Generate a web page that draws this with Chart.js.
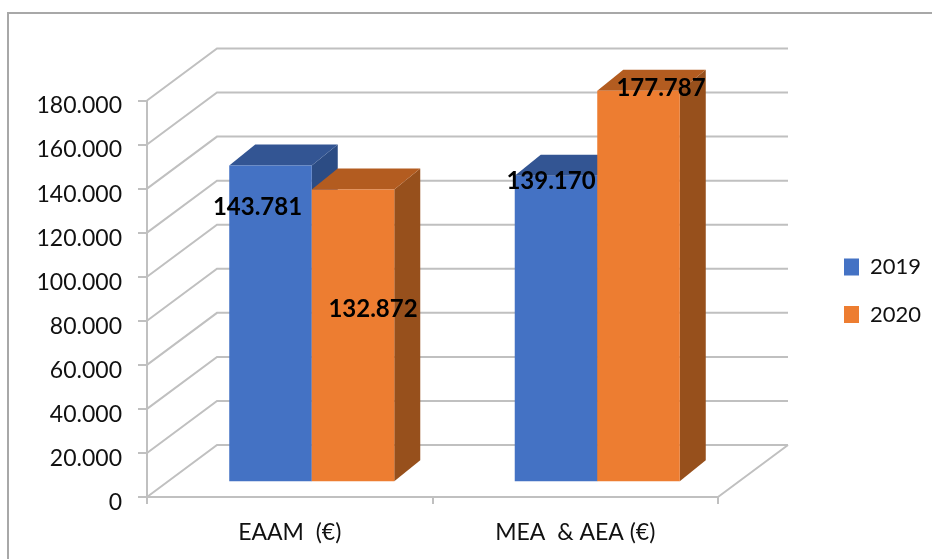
<!DOCTYPE html>
<html>
<head>
<meta charset="utf-8">
<script src="https://cdn.jsdelivr.net/npm/chart.js@4"></script>
<style>
    html, body { margin: 0; background: #fff; }
    canvas { display: block; filter: blur(0.45px); }
</style>
</head>
<body>
<canvas id="c" width="932" height="559"></canvas>
<script>
const categories = ["EAAM  (€)", "MEA  & AEA (€)"];
const seriesNames = ["2019", "2020"];
const values2019 = [143781, 139170];
const values2020 = [132872, 177787];
const yTicks = [0, 20000, 40000, 60000, 80000, 100000, 120000, 140000, 160000, 180000];

const blue = { front: '#4472c4', top: '#335593', side: '#2c4c84' };
const orange = { front: '#ed7d31', top: '#b35c20', side: '#97501c' };
const faces = [blue, orange];
const gridColor = '#c0c0c0';
const fontFamily = 'Lato, "Open Sans", sans-serif';

// depth of the back wall and of the bars, from the front plane
const wall = { dx: 70, dy: -52 };
const bar = { dx: 26, dy: -21 };
const barShift = { dx: 22, dy: -14.7 };

// hand placed value labels, relative to the front top of each bar
const labelOffsets = [
    [[-13, 42], [-5, 6]],
    [[20, 120], [22.5, -2]]
];

function fmt(v) {
    return v.toLocaleString('de-DE');
}

function poly(ctx, pts, color) {
    ctx.fillStyle = color;
    ctx.beginPath();
    pts.forEach((p, i) => i ? ctx.lineTo(p[0], p[1]) : ctx.moveTo(p[0], p[1]));
    ctx.closePath();
    ctx.fill();
}

const box3d = {
    id: 'box3d',
    beforeLayout(chart) {
        const lg = chart.legend;
        if (!lg || lg._wrapped) return;
        const fit = lg.fit;
        lg.fit = function () {
            fit.call(this);
            this.width = 214;
        };
        lg._wrapped = true;
    },
    afterLayout(chart) {
        const lg = chart.legend;
        lg.left = 844 - lg.options.labels.padding;
        lg.top -= 39;
        lg.bottom -= 39;
    },
    beforeDraw(chart) {
        const ctx = chart.ctx;
        ctx.save();
        ctx.strokeStyle = '#a8a8a8';
        ctx.lineWidth = 2;
        ctx.beginPath();
        ctx.moveTo(8, 559);
        ctx.lineTo(8, 13);
        ctx.lineTo(932, 13);
        ctx.stroke();
        ctx.restore();
    },
    beforeDatasetsDraw(chart) {
        const ctx = chart.ctx;
        const y = chart.scales.y;
        const a = chart.chartArea;
        ctx.save();
        ctx.strokeStyle = gridColor;
        ctx.lineWidth = 2;
        ctx.beginPath();
        y.ticks.forEach(t => {
            const py = y.getPixelForValue(t.value);
            ctx.moveTo(a.left, py);
            ctx.lineTo(a.left + wall.dx, py + wall.dy);
            ctx.lineTo(a.right + wall.dx, py + wall.dy);
        });
        // floor edge on the right
        ctx.moveTo(a.right + wall.dx, a.bottom + wall.dy);
        ctx.lineTo(a.right, a.bottom);
        ctx.stroke();
        ctx.restore();

        // 2020 has to sit on top of 2019, the default order is the other way round
        ctx.save();
        ctx.translate(barShift.dx, barShift.dy);
        chart.data.datasets.forEach((ds, i) => {
            const meta = chart.getDatasetMeta(i);
            const c = faces[i];
            meta.data.forEach(el => {
                const l = el.x - el.width / 2;
                const r = el.x + el.width / 2;
                poly(ctx, [[r, el.y], [r + bar.dx, el.y + bar.dy], [r + bar.dx, el.base + bar.dy], [r, el.base]], c.side);
                poly(ctx, [[l, el.y], [l + bar.dx, el.y + bar.dy], [r + bar.dx, el.y + bar.dy], [r, el.y]], c.top);
            });
            meta.controller.draw();
        });
        ctx.restore();
        return false;
    },
    afterDraw(chart) {
        const ctx = chart.ctx;
        ctx.save();
        ctx.fillStyle = '#000';
        ctx.font = 'bold 24px ' + fontFamily;
        ctx.textAlign = 'center';
        ctx.textBaseline = 'middle';
        chart.data.datasets.forEach((ds, i) => {
            chart.getDatasetMeta(i).data.forEach((el, j) => {
                const o = labelOffsets[i][j];
                ctx.fillText(fmt(ds.data[j]), el.x + barShift.dx + o[0], el.y + barShift.dy + o[1]);
            });
        });
        ctx.restore();
    }
};

new Chart(document.getElementById('c'), {
    type: 'bar',
    data: {
        labels: categories,
        datasets: [
            { label: seriesNames[0], data: values2019, backgroundColor: blue.front },
            { label: seriesNames[1], data: values2020, backgroundColor: orange.front }
        ]
    },
    plugins: [box3d],
    options: {
        responsive: false,
        animation: false,
        categoryPercentage: 0.578,
        barPercentage: 1,
        layout: { padding: { top: 100.5, left: 0, right: 0, bottom: 0 } },
        scales: {
            x: {
                afterFit: s => { s.height = 62; },
                grid: { drawOnChartArea: false, color: gridColor, tickLength: 7, lineWidth: 2 },
                border: { color: gridColor, width: 2 },
                ticks: { color: '#111', padding: 15, maxRotation: 0, font: { family: fontFamily, size: 23 } }
            },
            y: {
                min: 0,
                max: 180000,
                afterFit: s => { s.width = 147; },
                afterBuildTicks: s => { s.ticks = yTicks.map(v => ({ value: v })); },
                grid: { drawOnChartArea: false, color: gridColor, tickLength: 9, lineWidth: 2 },
                border: { color: gridColor, width: 2 },
                ticks: { color: '#111', padding: 16, labelOffset: 5.5, callback: v => fmt(v), font: { family: fontFamily, size: 23 } }
            }
        },
        plugins: {
            tooltip: { enabled: false },
            title: { display: false },
            legend: {
                position: 'right',
                labels: {
                    color: '#111',
                    boxWidth: 15,
                    boxHeight: 17,
                    padding: 25.6,
                    font: { family: fontFamily, size: 22 }
                }
            }
        }
    }
});
</script>
</body>
</html>
